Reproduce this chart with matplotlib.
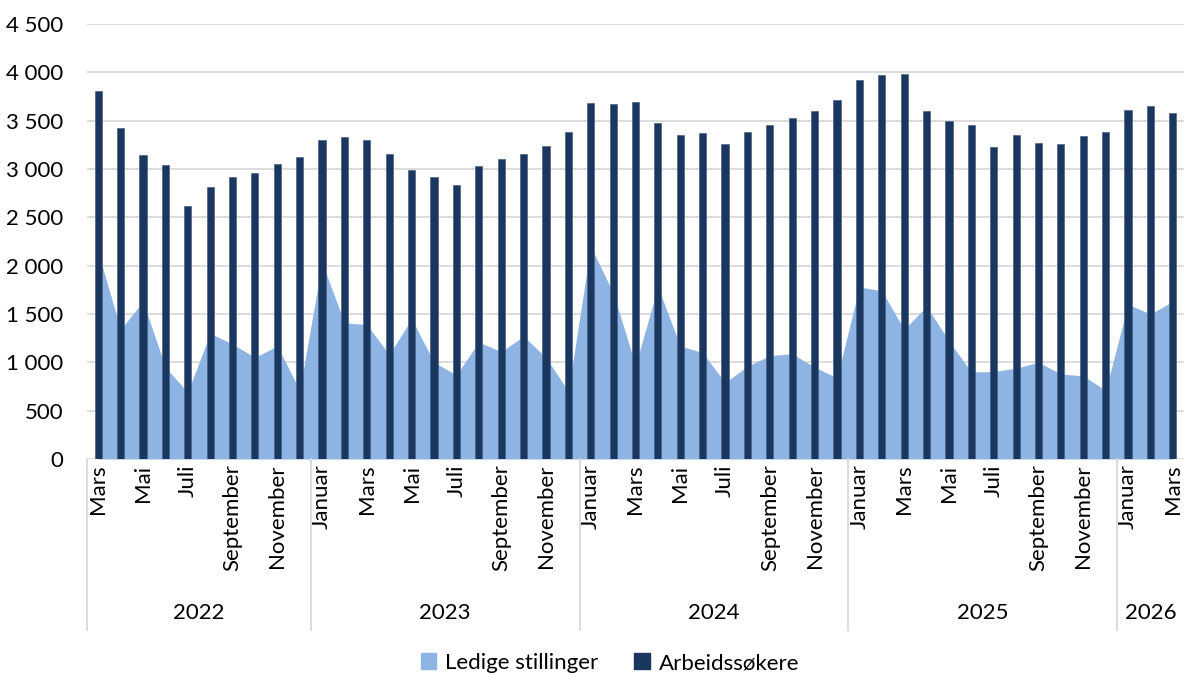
import numpy as np
import matplotlib
matplotlib.use("Agg")
import matplotlib.pyplot as plt
from matplotlib.lines import Line2D
from matplotlib.patches import Patch
from matplotlib.ticker import FuncFormatter

plt.rcParams['font.family'] = ['Lato', 'DejaVu Sans']

# months shown: March 2022 .. March 2026
months = ["Mars", "April", "Mai", "Juni", "Juli", "August", "September", "Oktober", "November", "Desember",
          "Januar", "Februar", "Mars", "April", "Mai", "Juni", "Juli", "August", "September", "Oktober", "November", "Desember",
          "Januar", "Februar", "Mars", "April", "Mai", "Juni", "Juli", "August", "September", "Oktober", "November", "Desember",
          "Januar", "Februar", "Mars", "April", "Mai", "Juni", "Juli", "August", "September", "Oktober", "November", "Desember",
          "Januar", "Februar", "Mars"]
years = ["2022", "2023", "2024", "2025", "2026"]
months_per_year = [10, 12, 12, 12, 3]

arbeidssokere = [3810, 3420, 3150, 3040, 2620, 2815, 2915, 2955, 3055, 3125,
                 3305, 3335, 3295, 3160, 2990, 2915, 2830, 3030, 3100, 3158, 3235, 3385,
                 3685, 3675, 3690, 3480, 3348, 3375, 3263, 3385, 3458, 3523, 3595, 3716,
                 3916, 3975, 3985, 3605, 3492, 3458, 3228, 3348, 3273, 3260, 3340, 3385,
                 3608, 3647, 3575]
ledige = [2140, 1340, 1630, 950, 690, 1300, 1190, 1050, 1170, 710,
          2030, 1410, 1390, 1080, 1450, 1000, 870, 1210, 1110, 1270, 1050, 700,
          2200, 1720, 970, 1780, 1170, 1100, 790, 960, 1070, 1090, 950, 840,
          1780, 1740, 1340, 1580, 1220, 900, 905, 940, 1000, 880, 860, 710,
          1600, 1500, 1630]

bar_color = '#1A375F'
area_color = '#8EB4E3'
grid_color = '#D9D9D9'
fs = 16

x = np.arange(len(months))

fig = plt.figure(figsize=(11.84, 6.78), dpi=100)
ax = fig.add_axes([87 / 1184, 1 - 459 / 678, 1 - 87 / 1184, 435 / 678])

ax.fill_between(x, 0, ledige, color=area_color, linewidth=0, zorder=2)
ax.bar(x, arbeidssokere, width=0.32, color=bar_color, edgecolor='#4A6285', linewidth=0.5, zorder=3)

ax.set_xlim(-0.5, len(months) - 0.5)
ax.set_ylim(0, 4500)
ax.set_yticks(np.arange(0, 4501, 500))
ax.yaxis.set_major_formatter(FuncFormatter(lambda v, p: f"{int(v):,}".replace(",", " ")))
ax.grid(axis='y', color=grid_color, linewidth=1.3, zorder=0)
for s in ax.spines.values():
    s.set_visible(False)
ax.tick_params(axis='y', length=0, pad=17, labelsize=fs, colors='black')

ax.set_xticks(x[::2])
ax.set_xticklabels(months[::2], rotation=90, va='top', ha='center')
ax.tick_params(axis='x', length=0, pad=4, labelsize=fs)

# year group labels and separators
trans = ax.get_xaxis_transform()
start = 0
bounds = [-0.5]
for yr, n in zip(years, months_per_year):
    ax.text(start + (n - 1) / 2, -0.354, yr, transform=trans, ha='center', va='center', fontsize=fs)
    start += n
    bounds.append(start - 0.5)
for b in bounds[:-1]:
    ax.add_line(Line2D([b, b], [0, -0.393], transform=trans, color=grid_color, linewidth=1.3, clip_on=False))

handles = [Patch(color=area_color, label='Ledige stillinger'), Patch(color=bar_color, label='Arbeidssøkere')]
fig.legend(handles=handles, loc='center', bbox_to_anchor=(610 / 1184, 1 - 663 / 678), ncol=2, frameon=False,
           fontsize=fs, handlelength=0.7, handleheight=0.7, handletextpad=0.4, columnspacing=1.6)

fig.savefig('out.png', dpi=100)
